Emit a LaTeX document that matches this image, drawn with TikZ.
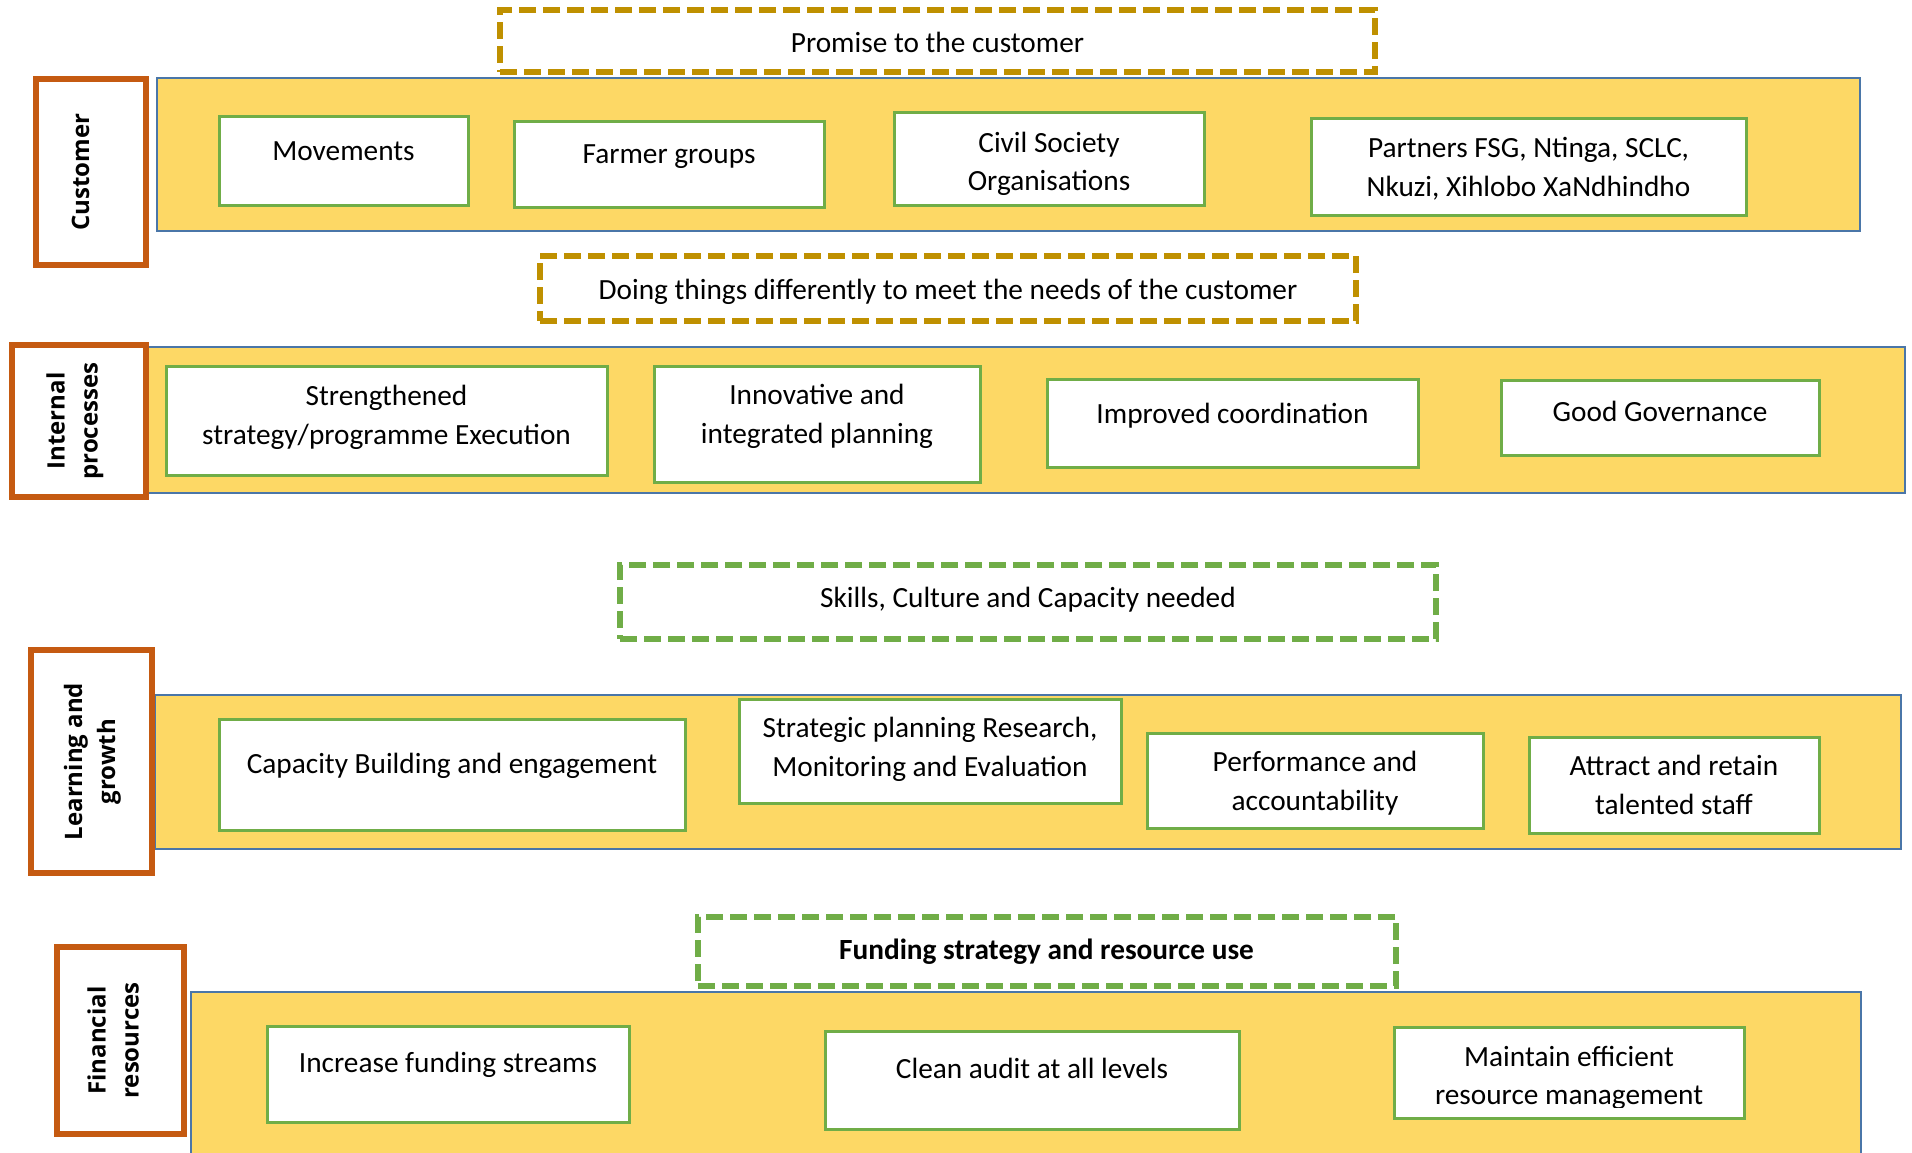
\documentclass[tikz,border=0pt]{standalone}
\usepackage{fontspec}
\setmainfont{Carlito}
\newfontfamily\labelfont{Open Sans}

\definecolor{bandfill}{HTML}{FDD865}
\definecolor{bandline}{HTML}{4A76A8}
\definecolor{labelline}{HTML}{C55A11}
\definecolor{boxline}{HTML}{70AD47}
\definecolor{goldline}{HTML}{BF9000}

\begin{document}
\begin{tikzpicture}[x=1pt,y=-1pt,
  every node/.style={inner sep=0pt, outer sep=0pt},
  band/.style={draw=bandline, fill=bandfill, line width=2.5pt, anchor=north west},
  perspective/.style={draw=labelline, fill=white, line width=6pt, anchor=north west},
  goalbox/.style={draw=boxline, fill=white, line width=3pt, anchor=north west},
  themebox/.style={draw=#1, fill=white, line width=5.5pt, dash pattern=on 17pt off 7pt, anchor=north west},
  txt/.style={font=\fontsize{29.3}{38.5}\selectfont, align=center,
    execute at begin node=\strut, execute at end node=\strut},
  vlabel/.style={font=\labelfont\bfseries\fontsize{24}{33}\selectfont, align=center, rotate=90,
    execute at begin node=\strut, execute at end node=\strut}]
\useasboundingbox (0,0) rectangle (1912,1152);
\clip (0,0) rectangle (1912,1152);

% ---------- Customer ----------
\node[themebox=goldline, minimum width=875, minimum height=62] (promise) at (500,10) {};
\node[txt] (promisetext) at (937.5,44.5) {Promise to the customer};
\node[band, minimum width=1703, minimum height=153] (custband) at (157,78) {};
\node[perspective, minimum width=110, minimum height=186] (custlabel) at (36,79) {};
\node[vlabel] (custlabeltext) at (82.4,172) {Customer};
\node[goalbox, minimum width=249, minimum height=89] (movements) at (219,116) {};
\node[txt] (movementstext) at (343.5,153) {Movements};
\node[goalbox, minimum width=310, minimum height=86] (farmers) at (514,121) {};
\node[txt] (farmerstext) at (669,156) {Farmer groups};
\node[goalbox, minimum width=310, minimum height=93] (civil) at (894,112) {};
\node[txt] (civiltext) at (1049,167) {Civil Society\\Organisations};
\node[goalbox, minimum width=435, minimum height=97] (partners) at (1311,118) {};
\node[txt] (partnerstext) at (1528.5,172.5) {Partners FSG, Ntinga, SCLC,\\Nkuzi, Xihlobo XaNdhindho};

% ---------- Internal processes ----------
\node[themebox=goldline, minimum width=816, minimum height=65] (differently) at (540,256) {};
\node[txt] (differentlytext) at (948,292) {Doing things differently to meet the needs of the customer};
\node[band, minimum width=1759, minimum height=146] (intband) at (146,347) {};
\node[perspective, minimum width=134, minimum height=152] (intlabel) at (12,345) {};
\node[vlabel] (intlabeltext) at (77,421) {Internal\\processes};
\node[goalbox, minimum width=441, minimum height=109] (execution) at (166,366) {};
\node[txt] (executiontext) at (386.5,420.5) {Strengthened\\strategy/programme Execution};
\node[goalbox, minimum width=326, minimum height=116] (planning) at (654,366) {};
\node[txt] (planningtext) at (817,419.5) {Innovative and\\integrated planning};
\node[goalbox, minimum width=371, minimum height=88] (coordination) at (1047,379) {};
\node[txt] (coordinationtext) at (1232.5,415.5) {Improved coordination};
\node[goalbox, minimum width=318, minimum height=75] (governance) at (1501,380) {};
\node[txt] (governancetext) at (1660,414) {Good Governance};

% ---------- Learning and growth ----------
\node[themebox=boxline, minimum width=816, minimum height=74] (skills) at (620,565) {};
\node[txt] (skillstext) at (1028,600) {Skills, Culture and Capacity needed};
\node[band, minimum width=1746, minimum height=154] (learnband) at (155,695) {};
\node[perspective, minimum width=121, minimum height=223] (learnlabel) at (31,650) {};
\node[vlabel] (learnlabeltext) at (94.4,761.5) {Learning and\\growth};
\node[goalbox, minimum width=466, minimum height=111] (capacity) at (219,719) {};
\node[txt] (capacitytext) at (452,766) {Capacity Building and engagement};
\node[goalbox, minimum width=382, minimum height=104] (research) at (739,699) {};
\node[txt] (researchtext) at (930,752.5) {Strategic planning Research,\\Monitoring and Evaluation};
\node[goalbox, minimum width=336, minimum height=95] (performance) at (1147,733) {};
\node[txt] (performancetext) at (1315,786.5) {Performance and\\accountability};
\node[goalbox, minimum width=290, minimum height=96] (staff) at (1529,737) {};
\node[txt] (stafftext) at (1674,790.5) {Attract and retain\\talented staff};

% ---------- Financial resources ----------
\node[themebox=boxline, minimum width=698, minimum height=69] (funding) at (698,917) {};
\node[txt, font=\fontsize{29.3}{38.5}\selectfont\bfseries] (fundingtext) at (1046.5,952) {Funding strategy and resource use};
\node[band, minimum width=1670, minimum height=178] (finband) at (191,992) {};
\node[perspective, minimum width=127, minimum height=187] (finlabel) at (57,947) {};
\node[vlabel] (finlabeltext) at (118,1040.5) {Financial\\resources};
\node[goalbox, minimum width=362, minimum height=96] (streams) at (267,1026) {};
\node[txt] (streamstext) at (448,1065) {Increase funding streams};
\node[goalbox, minimum width=414, minimum height=98] (audit) at (825,1031) {};
\node[txt] (audittext) at (1032,1071) {Clean audit at all levels};
\node[goalbox, minimum width=350, minimum height=91] (resources) at (1394,1027) {};
\begin{scope}
  \clip (1394,1027) rectangle (1744,1107);
  \node[txt] (resourcestext) at (1569,1081) {Maintain efficient\\resource management};
\end{scope}
\end{tikzpicture}
\end{document}
